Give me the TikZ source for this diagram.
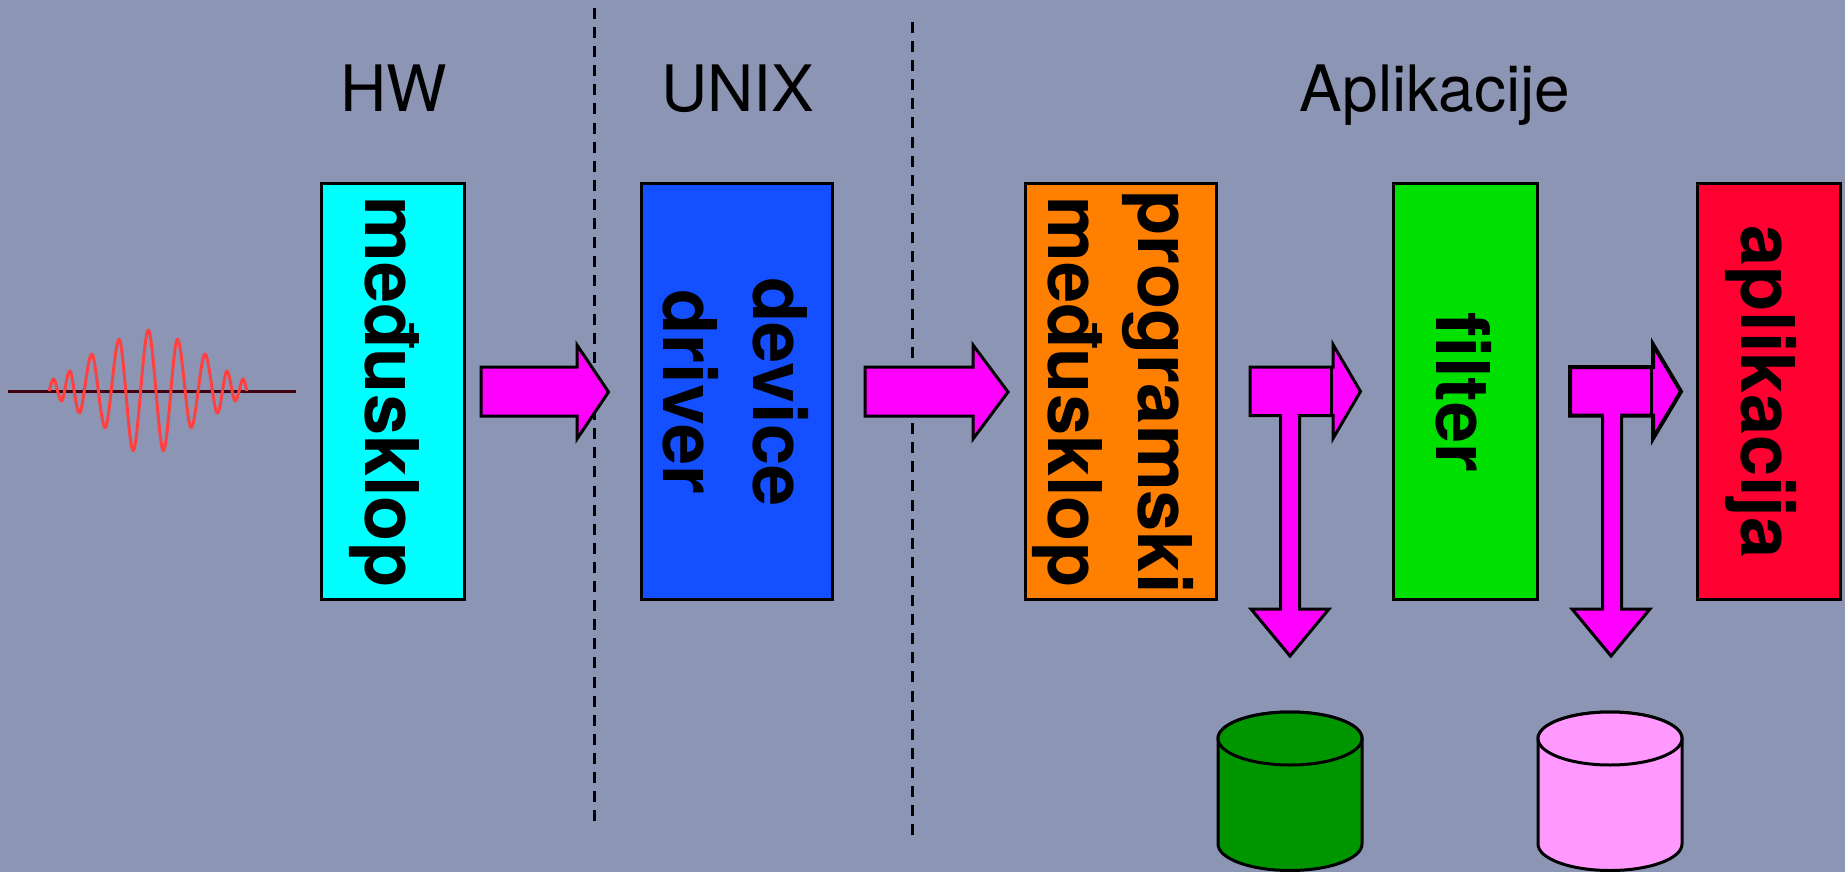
\documentclass[tikz,border=0pt]{standalone}
\usepackage{fontspec}
\setmainfont{TeX Gyre Heros}
\definecolor{bgc}{HTML}{8C96B4}
\definecolor{cyanbox}{HTML}{00FFFF}
\definecolor{bluebox}{HTML}{1450FF}
\definecolor{orangebox}{HTML}{FF8000}
\definecolor{greenbox}{HTML}{00E000}
\definecolor{redbox}{HTML}{FF0030}
\definecolor{arrowc}{HTML}{FF00FF}
\definecolor{dbgreen}{HTML}{009600}
\definecolor{dbpink}{HTML}{FF99FF}
\definecolor{wavec}{HTML}{FF4040}
\definecolor{baselinec}{HTML}{40000F}
\tikzset{
  px/.style={x=1pt,y=-1pt},
  boxshape/.style={draw=black,line width=3pt,line join=miter},
  title/.style={font=\fontsize{64}{70}\selectfont,anchor=base},
  boxlabel/.style={font=\fontsize{74}{90}\selectfont\bfseries,rotate=-90,align=center,inner sep=0pt},
  arrowshape/.style={draw=black,fill=arrowc,line width=3pt,line join=miter},
  divider/.style={draw=black,line width=3pt,dash pattern=on 11pt off 8.1pt},
  dbshape/.style={draw=black,line width=3pt}
}
\begin{document}
\begin{tikzpicture}[px]
\fill[bgc] (0,0) rectangle (1845,872);
\useasboundingbox (0,0) rectangle (1845,872);

\coordinate (d1a) at (594,8); \coordinate (d1b) at (594,822);
\coordinate (d2a) at (912,22); \coordinate (d2b) at (912,838);
\draw[divider] (d1a) -- (d1b);
\draw[divider] (d2a) -- (d2b);

\node[title] (thw) at (394,112) {HW};
\node[title] (tunix) at (738,112) {UNIX};
\node[title] (tapp) at (1435,112) {Aplikacije};

\coordinate (wa) at (8,391); \coordinate (wb) at (296,391);
\draw[draw=baselinec,line width=3pt] (wa) -- (wb);
\draw[wavec,line width=3pt,line join=round]
 plot[smooth,tension=0.55] coordinates {
 (49.3,391) (54,379) (61.7,401) (70,371) (79.7,413) (92,354) (105.3,427.7)
 (119.3,339.3) (133.3,450.7) (148.3,330) (163.3,450.7) (177.3,339.3) (191,427.7)
 (204.7,354) (217,413) (226.7,371) (235,401) (242.7,379) (246.7,391)};

\path[boxshape,fill=cyanbox] (321.5,183.5) rectangle (464.5,599.5);
\path[boxshape,fill=bluebox] (641,183.5) rectangle (832.5,599.5);
\path[boxshape,fill=orangebox] (1025.5,183.5) rectangle (1216.5,599.5);
\path[boxshape,fill=greenbox] (1393.5,183.5) rectangle (1537,599.5);
\path[boxshape,fill=redbox] (1697.5,183.5) rectangle (1840.5,599.5);

\node[boxlabel] (l1) at (384.5,392) {međusklop};
\node[boxlabel] (l2) at (736,392) {device\\driver};
\node[boxlabel] (l3) at (1113,392) {programski\\međusklop};
\node[boxlabel] (l4) at (1463.5,392) {filter};
\node[boxlabel] (l5) at (1761,392) {aplikacija};

\path[arrowshape] (481,367) -- (577,367) -- (577,345) -- (608.5,392) -- (577,439) -- (577,416) -- (481,416) -- cycle;
\path[arrowshape] (865,367) -- (973,367) -- (973,345) -- (1008,392) -- (973,439) -- (973,416) -- (865,416) -- cycle;

\path[arrowshape] (1250,367) -- (1333,367) -- (1333,344.5) -- (1360.5,391.5) -- (1333,438.5) -- (1333,415.5) -- (1250,415.5) -- cycle;
\draw[black,line width=3pt] (1331,367) -- (1331,415.5);
\fill[arrowc] (1282,412) rectangle (1298,418);
\path[arrowshape] (1280.5,415.5) -- (1280.5,609) -- (1251,609) -- (1290,656) -- (1329,609) -- (1299.5,609) -- (1299.5,415.5);

\path[arrowshape,line width=4pt] (1570,367) -- (1653,367) -- (1653,344.5) -- (1681,391.5) -- (1653,438.5) -- (1653,415.5) -- (1570,415.5) -- cycle;
\draw[black,line width=3pt] (1651,367) -- (1651,415.5);
\fill[arrowc] (1604,412) rectangle (1620,418);
\path[arrowshape] (1602.5,415.5) -- (1602.5,609) -- (1572,609) -- (1611,656) -- (1650,609) -- (1621.5,609) -- (1621.5,415.5);

\draw[dbshape,fill=dbgreen] (1218,738.5) -- (1218,844) arc[start angle=180,end angle=360,x radius=72,y radius=-26.5] -- (1362,738.5) arc[start angle=0,end angle=180,x radius=72,y radius=-26.5] -- cycle;
\draw[dbshape,fill=dbgreen] (1290,738.5) ellipse[x radius=72,y radius=26.5];
\draw[dbshape,fill=dbpink] (1538,738.5) -- (1538,844) arc[start angle=180,end angle=360,x radius=72,y radius=-26.5] -- (1682,738.5) arc[start angle=0,end angle=180,x radius=72,y radius=-26.5] -- cycle;
\draw[dbshape,fill=dbpink] (1610,738.5) ellipse[x radius=72,y radius=26.5];
\end{tikzpicture}
\end{document}
